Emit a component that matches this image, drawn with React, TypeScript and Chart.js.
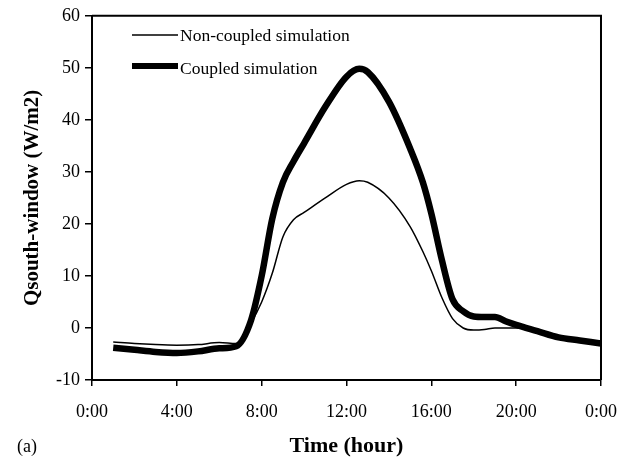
import React, { useEffect, useRef } from "react";
import { Chart, registerables } from "chart.js";

Chart.register(...registerables);

const hours = [1, 2, 3, 4, 5, 6, 6.8, 7.5, 8, 8.5, 9, 9.5, 10, 11, 12, 12.6, 13, 14, 15, 15.6, 16, 16.5, 17, 17.5, 18, 18.5, 19, 19.5, 20, 21, 22, 23, 24];
const nonCoupled = [-2.7, -3.0, -3.2, -3.3, -3.2, -2.8, -3.0, 1.0, 5.0, 10.5, 17.5, 20.8, 22.2, 25.0, 27.6, 28.3, 28.0, 25.0, 19.5, 14.7, 11.0, 5.8, 1.8, 0.0, -0.4, -0.3, 0.0, 0.0, 0.0, -0.6, -1.8, -2.4, -3.0];
const coupled = [-3.8, -4.2, -4.6, -4.8, -4.5, -3.9, -3.5, 1.5, 10.0, 21.0, 28.0, 32.0, 35.5, 42.5, 48.3, 49.8, 49.2, 43.5, 34.5, 28.0, 22.0, 13.0, 5.5, 3.2, 2.2, 2.1, 2.1, 1.3, 0.6, -0.6, -1.8, -2.4, -3.0];
const seriesLabels = ["Non-coupled simulation", "Coupled simulation"];
const xTicks = [0, 4, 8, 12, 16, 20, 24];
const yTitle = "Qsouth-window (W/m2)";
const xTitle = "Time (hour)";
const panelLabel = "(a)";

const FONT = "'Liberation Serif', 'Times New Roman', serif";

export default function App() {
  const ref = useRef<HTMLCanvasElement | null>(null);

  useEffect(() => {
    document.body.style.margin = "0";
    const canvas = ref.current;
    if (!canvas) return;

    const framePlugin = {
      id: "frameAndLegend",
      afterDraw(chart: any) {
        const { ctx, chartArea } = chart;
        ctx.save();
        ctx.strokeStyle = "#000";
        ctx.lineWidth = 2;
        ctx.beginPath();
        ctx.moveTo(chartArea.left, chartArea.top);
        ctx.lineTo(chartArea.right, chartArea.top);
        ctx.lineTo(chartArea.right, chartArea.bottom);
        ctx.stroke();

        // legend
        const items = [
          { label: chart.data.datasets[0].label, w: 1.5, y: 35, ty: 36 },
          { label: chart.data.datasets[1].label, w: 6, y: 66, ty: 69 },
        ];
        ctx.font = `17.5px ${FONT}`;
        ctx.fillStyle = "#000";
        ctx.textBaseline = "middle";
        ctx.textAlign = "left";
        for (const it of items) {
          ctx.lineWidth = it.w;
          ctx.beginPath();
          ctx.moveTo(132, it.y);
          ctx.lineTo(178, it.y);
          ctx.stroke();
          ctx.fillText(it.label, 180, it.ty);
        }

        // panel label
        ctx.font = `18px ${FONT}`;
        ctx.fillText(panelLabel, 17, 447);
        ctx.restore();
      },
    };

    const chart = new Chart(canvas, {
      type: "line",
      data: {
        datasets: [
          {
            label: seriesLabels[0],
            data: hours.map((h, i) => ({ x: h, y: nonCoupled[i] })),
            borderColor: "#000",
            borderWidth: 1.5,
            pointRadius: 0,
            cubicInterpolationMode: "monotone",
            fill: false,
          },
          {
            label: seriesLabels[1],
            data: hours.map((h, i) => ({ x: h, y: coupled[i] })),
            borderColor: "#000",
            borderWidth: 6.5,
            pointRadius: 0,
            cubicInterpolationMode: "monotone",
            fill: false,
          },
        ],
      },
      options: {
        animation: false,
        responsive: true,
        maintainAspectRatio: false,
        layout: { padding: { left: 0, top: 13, right: 31, bottom: 0 } },
        plugins: {
          legend: { display: false },
          tooltip: { enabled: false },
        },
        scales: {
          x: {
            type: "linear",
            min: 0,
            max: 24,
            afterFit: (s: any) => {
              s.height = 86;
            },
            afterBuildTicks: (s: any) => {
              s.ticks = xTicks.map((v) => ({ value: v }));
            },
            ticks: {
              color: "#000",
              font: { family: FONT, size: 18 },
              padding: 15,
              maxRotation: 0,
              autoSkip: false,
              callback: (v: any) => `${Number(v) % 24}:00`,
            },
            grid: {
              display: true,
              drawOnChartArea: false,
              drawTicks: true,
              tickLength: 6,
              color: "#000",
              lineWidth: 1.5,
            },
            border: { display: true, color: "#000", width: 2 },
            title: {
              display: true,
              text: xTitle,
              color: "#000",
              font: { family: FONT, size: 22, weight: "bold" },
              padding: { top: 0, bottom: 6 },
            },
          },
          y: {
            min: -10,
            max: 60,
            afterFit: (s: any) => {
              s.width = 92;
            },
            ticks: {
              stepSize: 10,
              color: "#000",
              font: { family: FONT, size: 18 },
              padding: 5,
            },
            grid: {
              display: true,
              drawOnChartArea: false,
              drawTicks: true,
              tickLength: 7,
              color: "#000",
              lineWidth: 1.5,
            },
            border: { display: true, color: "#000", width: 2 },
            title: {
              display: true,
              text: yTitle,
              color: "#000",
              font: { family: FONT, size: 21, weight: "bold" },
              padding: { top: 20, bottom: 0 },
            },
          },
        },
      },
      plugins: [framePlugin],
    } as any);

    return () => chart.destroy();
  }, []);

  return (
    <div style={{ position: "relative", width: 632, height: 466 }}>
      <canvas ref={ref} />
    </div>
  );
}
